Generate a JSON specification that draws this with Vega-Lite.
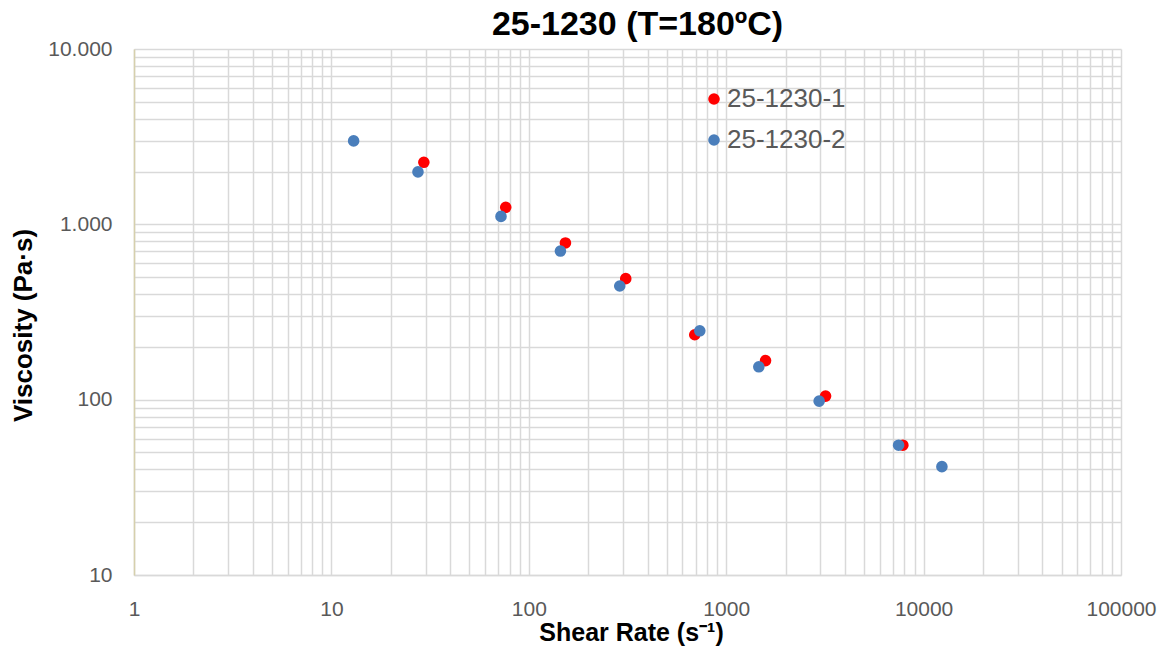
{
  "$schema": "https://vega.github.io/schema/vega-lite/v6.json",
  "autosize": {"type": "none"},
  "padding": {"left": 134, "top": 49, "right": 47, "bottom": 84},
  "width": 987,
  "height": 526,
  "background": "white",
  "title": {
    "text": "25-1230 (T=180ºC)",
    "font": "Liberation Sans",
    "fontSize": 34,
    "fontWeight": "bold",
    "color": "#000000",
    "anchor": "middle",
    "frame": "group",
    "baseline": "alphabetic",
    "offset": 2,
    "dx": 10,
    "dy": 33
  },
  "config": {
    "view": {"stroke": null},
    "axis": {"gridColor": "#d9d9d9", "gridWidth": 1.5, "ticks": false, "tickSize": 0}
  },
  "data": {
    "values": [
      {"sample": "25-1230-1", "rate": 29.4, "viscosity": 2258},
      {"sample": "25-1230-1", "rate": 76.4, "viscosity": 1250},
      {"sample": "25-1230-1", "rate": 153.3, "viscosity": 783},
      {"sample": "25-1230-1", "rate": 309.8, "viscosity": 490},
      {"sample": "25-1230-1", "rate": 693, "viscosity": 234.6},
      {"sample": "25-1230-1", "rate": 1582, "viscosity": 167},
      {"sample": "25-1230-1", "rate": 3187, "viscosity": 104.8},
      {"sample": "25-1230-1", "rate": 7852, "viscosity": 55.0},
      {"sample": "25-1230-2", "rate": 12.96, "viscosity": 2992},
      {"sample": "25-1230-2", "rate": 27.45, "viscosity": 1991},
      {"sample": "25-1230-2", "rate": 72.3, "viscosity": 1110},
      {"sample": "25-1230-2", "rate": 144.6, "viscosity": 704},
      {"sample": "25-1230-2", "rate": 288.9, "viscosity": 445},
      {"sample": "25-1230-2", "rate": 734.7, "viscosity": 247},
      {"sample": "25-1230-2", "rate": 1463, "viscosity": 154},
      {"sample": "25-1230-2", "rate": 2957, "viscosity": 98.1},
      {"sample": "25-1230-2", "rate": 7470, "viscosity": 55.0},
      {"sample": "25-1230-2", "rate": 12380, "viscosity": 41.5}
    ]
  },
  "mark": {"type": "point", "filled": true, "opacity": 1, "size": 135, "strokeWidth": 0},
  "encoding": {
    "x": {
      "field": "rate",
      "type": "quantitative",
      "scale": {"type": "log", "domain": [1, 100000], "nice": false},
      "axis": {
        "values": [1,2,3,4,5,6,7,8,9,10,20,30,40,50,60,70,80,90,100,200,300,400,500,600,700,800,900,1000,2000,3000,4000,5000,6000,7000,8000,9000,10000,20000,30000,40000,50000,60000,70000,80000,90000,100000],
        "labelExpr": "indexof([1,10,100,1000,10000,100000], datum.value) >= 0 ? format(datum.value, 'd') : ''",
        "labelFont": "Liberation Sans",
        "labelFontSize": 21,
        "labelColor": "#595959",
        "labelBaseline": "alphabetic",
        "labelPadding": 40,
        "labelOverlap": false,
        "labelFlush": false,
        "domainColor": "#d9d9d9",
        "domainWidth": 1.5,
        "title": "Shear Rate (s⁻¹)",
        "titleFont": "Liberation Sans",
        "titleFontSize": 25,
        "titleFontWeight": "bold",
        "titleColor": "#000000",
        "titleBaseline": "alphabetic",
        "titleX": 497,
        "titleY": 65
      }
    },
    "y": {
      "field": "viscosity",
      "type": "quantitative",
      "scale": {"type": "log", "domain": [10, 10000], "nice": false},
      "axis": {
        "values": [10,20,30,40,50,60,70,80,90,100,200,300,400,500,600,700,800,900,1000,2000,3000,4000,5000,6000,7000,8000,9000,10000],
        "labelExpr": "datum.value == 10000 ? '10.000' : datum.value == 1000 ? '1.000' : datum.value == 100 ? '100' : datum.value == 10 ? '10' : ''",
        "labelFont": "Liberation Sans",
        "labelFontSize": 21,
        "labelColor": "#595959",
        "labelBaseline": "middle",
        "labelPadding": 22,
        "labelOverlap": false,
        "labelFlush": false,
        "domainColor": "#d6d0ac",
        "domainWidth": 1.5,
        "title": "Viscosity (Pa·s)",
        "titleFont": "Liberation Sans",
        "titleFontSize": 26,
        "titleFontWeight": "bold",
        "titleColor": "#000000",
        "titleAngle": 270,
        "titleBaseline": "middle",
        "titleAlign": "center",
        "titleX": -111,
        "titleY": 276
      }
    },
    "color": {
      "field": "sample",
      "type": "nominal",
      "scale": {"domain": ["25-1230-1", "25-1230-2"], "range": ["#ff0000", "#4a7ebb"]},
      "legend": {
        "title": null,
        "orient": "none",
        "legendX": 567,
        "legendY": 37,
        "padding": 0,
        "symbolType": "circle",
        "symbolSize": 135,
        "symbolStrokeWidth": 0,
        "symbolOpacity": 1,
        "labelFont": "Liberation Sans",
        "labelFontSize": 26,
        "labelColor": "#595959",
        "labelOffset": 0,
        "rowPadding": 15
      }
    }
  }
}
